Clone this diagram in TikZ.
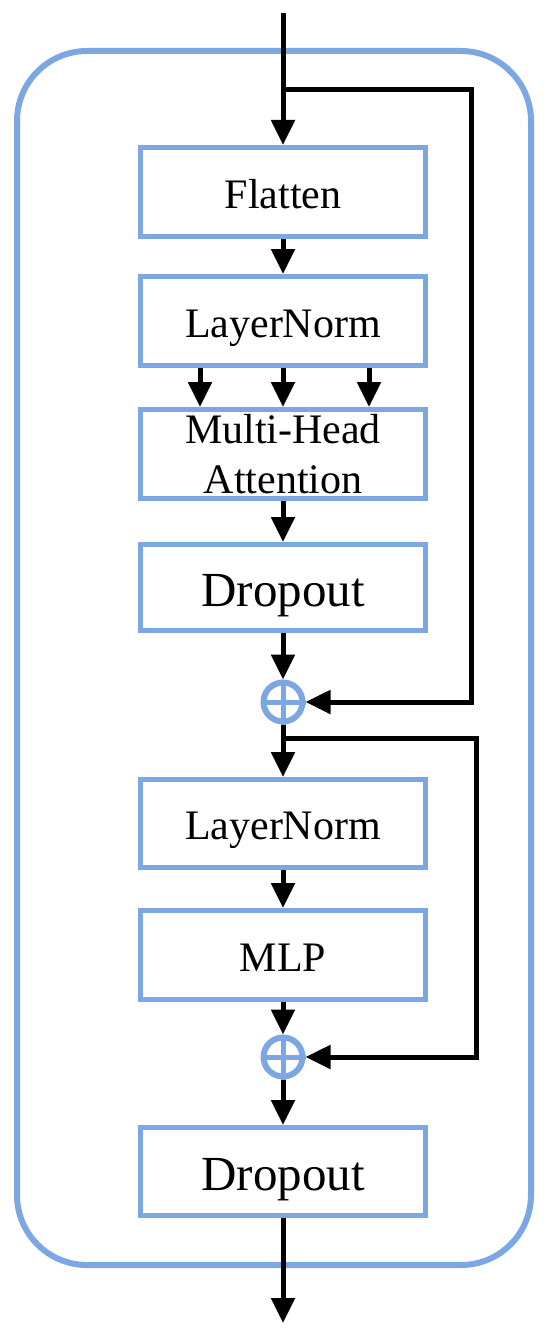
\documentclass[tikz,border=0pt]{standalone}
\usepackage{fontspec}
\setmainfont{Liberation Serif}
\usetikzlibrary{arrows.meta,calc}
\definecolor{bblue}{RGB}{125,167,226}
\tikzset{
  blkbase/.style={draw=bblue, line width=5pt, minimum width=285pt, inner sep=0pt,
    font=\fontsize{42}{50}\selectfont},
  blk/.style={blkbase, text height=32pt, text depth=0pt},
  bigtxt/.style={font=\fontsize{49}{58}\selectfont, text height=37pt},
  arr/.style={line width=5pt, -{Triangle[width=23pt,length=25pt]}},
  ring/.style={circle, draw=bblue, line width=6pt, minimum size=39pt, inner sep=0pt},
  plusl/.style={draw=bblue, line width=5pt},
}
\begin{document}
\begin{tikzpicture}[x=1pt,y=-1pt]
\useasboundingbox (0,0) rectangle (551,1343);
% outer frame
\draw[bblue, line width=6pt, rounded corners=70pt] (17,51) rectangle (531,1265);
% boxes
\node[blk, minimum height=89pt] (flat) at (283,192) {Flatten};
\node[blk, minimum height=89pt] (ln1) at (283,321) {LayerNorm};
\node[blkbase, minimum height=89pt, align=center] (mha) at (283,454) {Multi-Head\\Attention};
\node[blk, bigtxt, minimum height=86pt] (d1) at (283,587.5) {Dropout};
\node[blk, minimum height=88pt] (ln2) at (283,823.5) {LayerNorm};
\node[blk, minimum height=89pt] (mlp) at (283,955) {MLP};
\node[blk, bigtxt, minimum height=88pt] (d2) at (283,1171.5) {Dropout};
% adders
\node[ring] (c1) at (283,702) {};
\node[ring] (c2) at (283,1057) {};
\draw[plusl] (c1.north) -- (c1.south);
\draw[plusl] (c1.west) -- (c1.east);
\draw[plusl] (c2.north) -- (c2.south);
\draw[plusl] (c2.west) -- (c2.east);
% coordinates
\coordinate (in) at (283,13);
\coordinate (b1) at (283,90);
\coordinate (k1) at (471,90);
\coordinate (b2) at (283,738);
\coordinate (k2) at (476,738);
\coordinate (out) at (283,1323);
% connectors
\draw[arr] (in) -- (flat.north);
\draw[arr] (b1) -- (k1) |- (c1.east);
\draw[arr] (flat.south) -- (ln1.north);
\foreach \dx in {-83,0,86}
  \draw[arr] ($(ln1.south)+(\dx,0)$) -- ($(mha.north)+(\dx,0)$);
\draw[arr] (mha.south) -- (d1.north);
\draw[arr] (d1.south) -- (c1.north);
\draw[arr] (c1.south) -- (ln2.north);
\draw[arr] (b2) -- (k2) |- (c2.east);
\draw[arr] (ln2.south) -- (mlp.north);
\draw[arr] (mlp.south) -- (c2.north);
\draw[arr] (c2.south) -- (d2.north);
\draw[arr] (d2.south) -- (out);
\end{tikzpicture}
\end{document}
